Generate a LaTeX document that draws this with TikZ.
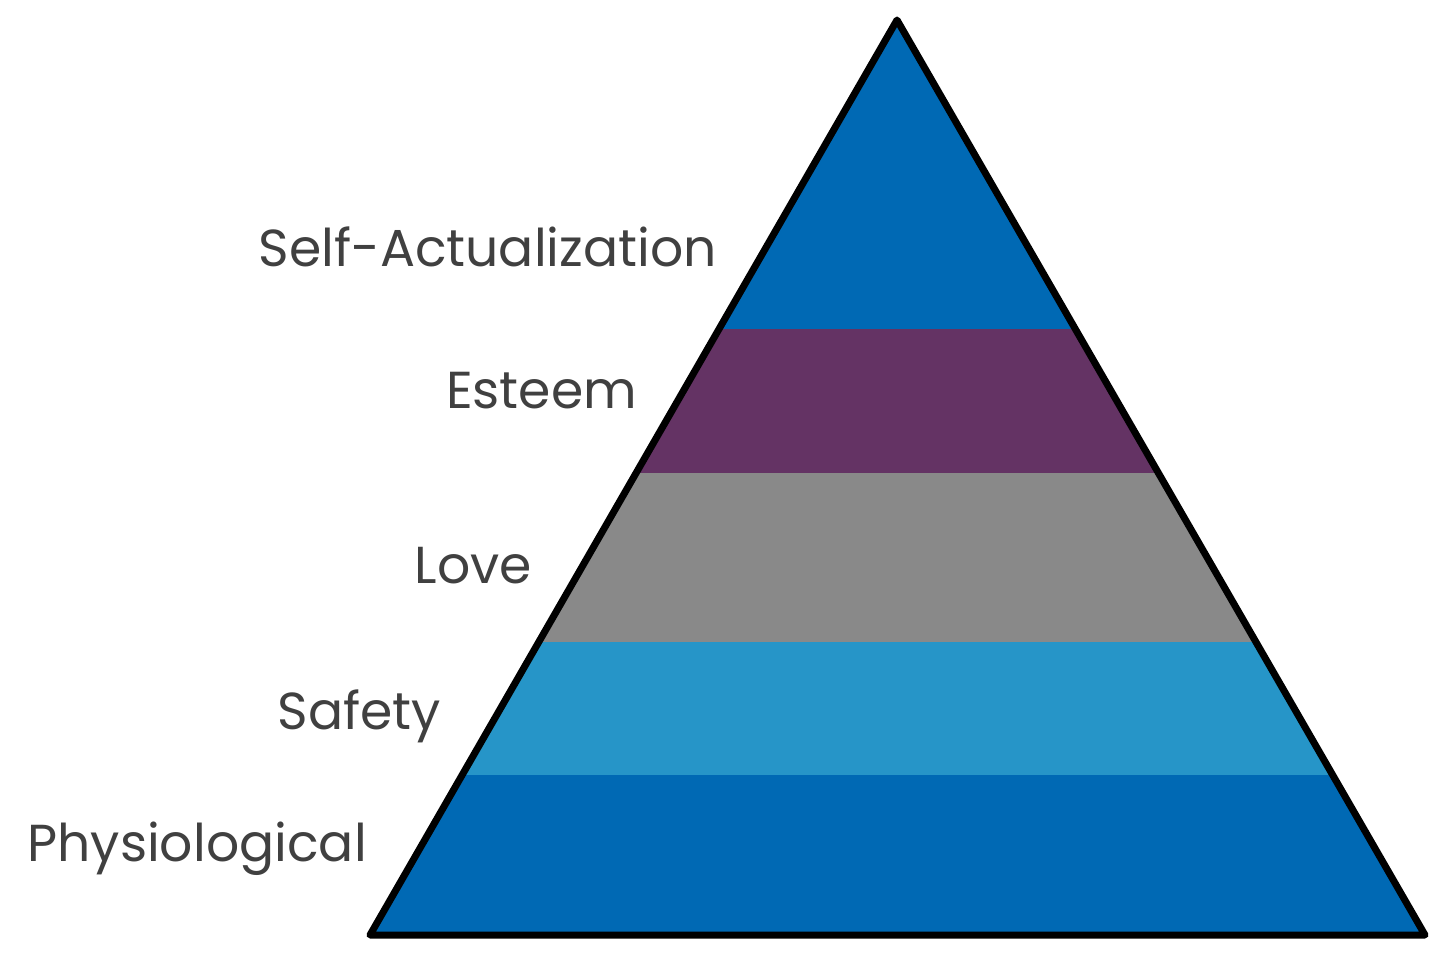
\documentclass[tikz,border=0pt]{standalone}
\usepackage{fontspec}
\setmainfont{Poppins}
\definecolor{dblue}{HTML}{0069B4}
\definecolor{purp}{HTML}{643364}
\definecolor{gr}{HTML}{898989}
\definecolor{lblue}{HTML}{2695C8}
\definecolor{txt}{HTML}{404040}
\begin{document}
\begin{tikzpicture}[x=1pt,y=-1pt,lab/.style={anchor=east,text=txt,font=\fontsize{52}{60}\selectfont,inner sep=0pt}]
\useasboundingbox (0,0) rectangle (1448,974);
\coordinate (A) at (897,20);
\coordinate (L) at (370,935);
\coordinate (R) at (1425,935);
\begin{scope}
\clip (A)--(L)--(R)--cycle;
\fill[dblue] (300,0) rectangle (1448,329);
\fill[purp] (300,329) rectangle (1448,473);
\fill[gr] (300,473) rectangle (1448,642);
\fill[lblue] (300,642) rectangle (1448,775);
\fill[dblue] (300,775) rectangle (1448,974);
\end{scope}
\draw[line width=7pt,line join=round] (A)--(L)--(R)--cycle;
\node[lab] (n1) at (717,247) {Self-Actualization};
\node[lab] (n2) at (637,391) {Esteem};
\node[lab] (n3) at (532,566) {Love};
\node[lab] (n4) at (441,716) {Safety};
\node[lab] (n5) at (367,849) {Physiological};
\end{tikzpicture}
\end{document}
